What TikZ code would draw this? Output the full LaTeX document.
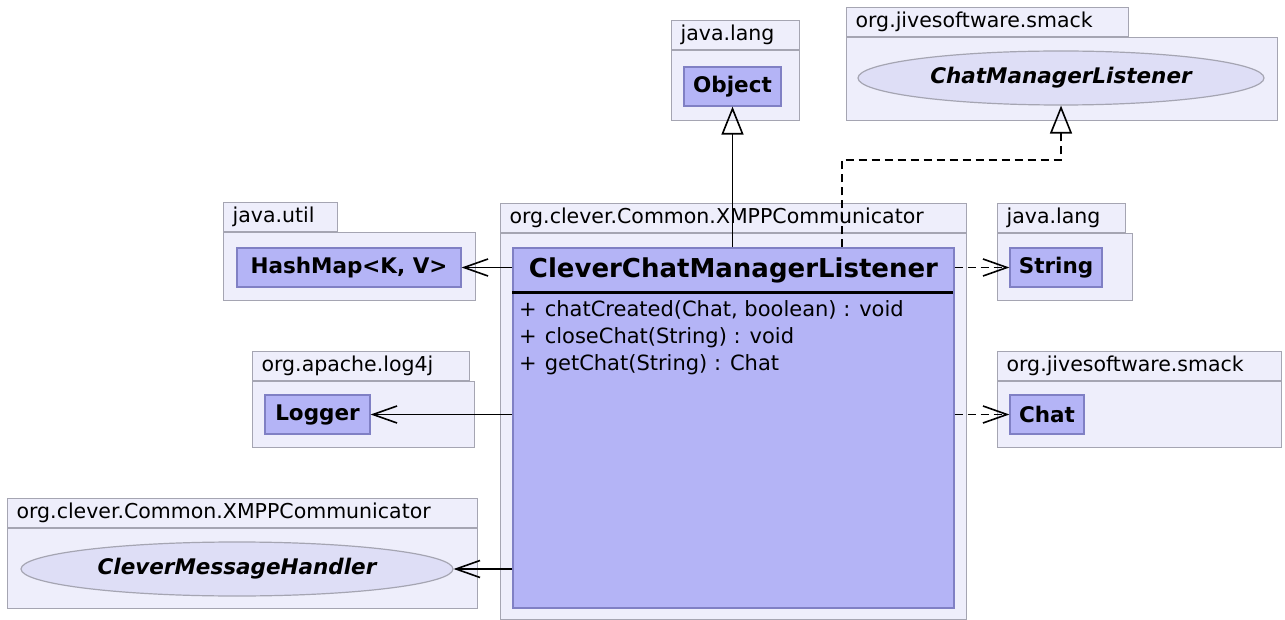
\documentclass[tikz,border=0pt]{standalone}
\usepackage{fontspec}
\setmainfont{DejaVu Sans}
\usetikzlibrary{shapes,arrows.meta,positioning,calc}

\definecolor{pkgfill}{RGB}{238,238,251}
\definecolor{pkgline}{RGB}{165,165,178}
\definecolor{clsfill}{RGB}{180,180,246}
\definecolor{clsline}{RGB}{128,128,196}
\definecolor{ifcfill}{RGB}{222,222,246}

\begin{document}
\begin{tikzpicture}[
    x=1pt, y=-1pt,
    font=\fontsize{20.5}{24}\selectfont,
    pkgtab/.style={draw=pkgline, fill=pkgfill, line width=1.2pt, rectangle, anchor=south west, inner xsep=9pt, inner ysep=0pt, minimum height=29pt, align=left},
    pkgbody/.style={draw=pkgline, fill=pkgfill, line width=1.2pt, rectangle, anchor=north west, inner sep=0pt},
    cls/.style={draw=clsline, fill=clsfill, line width=1.2pt, rectangle, inner sep=0pt, minimum height=39pt, font=\fontsize{21.5}{24}\selectfont\bfseries},
    iface/.style={draw=pkgline, fill=ifcfill, line width=1.2pt, ellipse, inner sep=0pt, minimum height=54pt, font=\fontsize{21.5}{24}\selectfont\bfseries\itshape},
    inherit/.style={line width=1.6pt, -{Triangle[open, length=28pt, width=22pt]}},
    uses/.style={line width=1.6pt, -{Straight Barb[length=24pt, width=17pt]}},
    weak/.style={dash pattern=on 8pt off 5pt}
]
\useasboundingbox (0,0) rectangle (1285,620);

% packages: body first, then the tab on top of it
\node[pkgbody, minimum width=128pt, minimum height=70pt] (p_lang) at (671,50) {};
\node[pkgtab, text width=110pt] (t_lang) at (p_lang.north west) {java.lang};
\node[pkgbody, minimum width=431pt, minimum height=83pt] (p_smack) at (846,37) {};
\node[pkgtab, text width=264pt] (t_smack) at (p_smack.north west) {org.jivesoftware.smack};
\node[pkgbody, minimum width=466pt, minimum height=386pt] (p_xmpp) at (500,233) {};
\node[pkgtab, text width=448pt] (t_xmpp) at (p_xmpp.north west) {org.clever.Common.XMPPCommunicator};
\node[pkgbody, minimum width=252pt, minimum height=68pt] (p_util) at (223,232) {};
\node[pkgtab, text width=96pt] (t_util) at (p_util.north west) {java.util};
\node[pkgbody, minimum width=135pt, minimum height=67pt] (p_lang2) at (997,233) {};
\node[pkgtab, text width=110pt] (t_lang2) at (p_lang2.north west) {java.lang};
\node[pkgbody, minimum width=222pt, minimum height=66pt] (p_log) at (252,381) {};
\node[pkgtab, text width=199pt] (t_log) at (p_log.north west) {org.apache.log4j};
\node[pkgbody, minimum width=284pt, minimum height=66pt] (p_smack2) at (997,381) {};
\node[pkgtab, text width=266pt] (t_smack2) at (p_smack2.north west) {org.jivesoftware.smack};
\node[pkgbody, minimum width=470pt, minimum height=80pt] (p_xmpp2) at (7,528) {};
\node[pkgtab, text width=452pt] (t_xmpp2) at (p_xmpp2.north west) {org.clever.Common.XMPPCommunicator};

% classes and interfaces
\node[cls, minimum width=97pt] (obj) at (732.5,86.5) {Object};
\node[iface, minimum width=406pt] (cml) at (1061,78) {ChatManagerListener};
\node[cls, minimum width=224pt] (hashmap) at (349,267.5) {HashMap<K, V>};
\node[cls, minimum width=92pt] (string) at (1056,267.5) {String};
\node[cls, minimum width=105pt] (logger) at (317.5,414.5) {Logger};
\node[cls, minimum width=74pt] (chat) at (1047,414.5) {Chat};
\node[iface, minimum width=432pt] (cmh) at (237,569) {CleverMessageHandler};

% the listener class itself
\node[cls, minimum width=441pt, minimum height=360pt] (main) at (733.5,428) {};
\node[anchor=north, minimum height=46pt, inner sep=0pt, font=\fontsize{26}{30}\selectfont\bfseries] (main_name) at (main.north) {CleverChatManagerListener};
\draw[line width=3pt] (main.north west) ++(0,45) -- ++(441,0);
\node[anchor=north west, align=left, inner sep=0pt, font=\fontsize{21}{27}\selectfont] (main_ops) at (519,300)
    {+\hspace{8pt}chatCreated(Chat, boolean) : void\\
     +\hspace{8pt}closeChat(String) : void\\
     +\hspace{8pt}getChat(String) : Chat};

% relations
\coordinate (bend) at (842,160);
\draw[inherit] (main.north -| obj.south) -- (obj.south);
\draw[inherit, weak] (bend |- main.north) -- (bend) -| (cml.south);
\draw[uses] (main.west |- hashmap) -- (hashmap.east);
\draw[uses, weak] (main.east |- string) -- (string.west);
\draw[uses] (main.west |- logger) -- (logger.east);
\draw[uses, weak] (main.east |- chat) -- (chat.west);
\draw[uses] (main.west |- cmh) -- (cmh.east);

\end{tikzpicture}
\end{document}
